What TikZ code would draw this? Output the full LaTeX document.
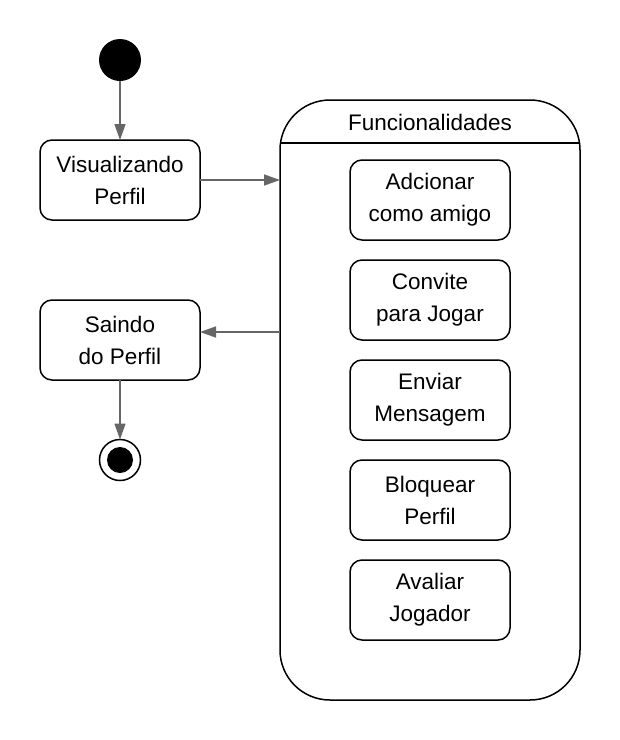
\documentclass[tikz,border=0pt]{standalone}
\usepackage{fontspec}
\setmainfont{Liberation Sans}
\usetikzlibrary{arrows.meta}
\begin{document}
\begin{tikzpicture}[x=1pt,y=-1pt,
  every node/.style={outer sep=0pt},
  statebox/.style={draw, line width=1.5pt, rounded corners=12pt, minimum width=160pt, minimum height=80pt, align=center, inner sep=0pt, font=\fontsize{22.5}{32}\selectfont},
  arr/.style={draw=black!60, line width=1.5pt, -{Triangle[length=16pt,width=11pt]}},
  lbl/.style={font=\fontsize{22.5}{32}\selectfont}
]
\useasboundingbox (0,0) rectangle (620,740);
% initial
\node[circle, fill=black, minimum size=42pt, inner sep=0pt] (start) at (120,60) {};
\node[statebox] (vis) at (120,180) {Visualizando\\Perfil};
\node[statebox] (sai) at (120,340) {Saindo\\do Perfil};
\node[circle, draw, line width=1.5pt, minimum size=41pt, inner sep=0pt] (fin) at (120,460) {};
\node[circle, fill=black, minimum size=26pt, inner sep=0pt] (finin) at (120,460) {};
% composite
\node[draw, line width=1.5pt, rounded corners=50pt, minimum width=300pt, minimum height=600pt, inner sep=0pt] (func) at (430,400) {};
\draw[line width=1.5pt] ([yshift=-43pt]func.north west) -- ([yshift=-43pt]func.north east);
\node[lbl] (functitle) at (430,122) {Funcionalidades};
\node[statebox] (s1) at (430,200) {Adcionar\\como amigo};
\node[statebox] (s2) at (430,300) {Convite\\para Jogar};
\node[statebox] (s3) at (430,400) {Enviar\\Mensagem};
\node[statebox] (s4) at (430,500) {Bloquear\\Perfil};
\node[statebox] (s5) at (430,600) {Avaliar\\Jogador};
% arrows
\draw[arr] (start) -- (vis);
\draw[arr] (vis.east) -- (vis.east -| func.west);
\coordinate (saiin) at ([yshift=8pt]sai.east);
\draw[arr] (func.west |- saiin) -- (saiin);
\draw[arr] (sai) -- (fin);
\end{tikzpicture}
\end{document}
